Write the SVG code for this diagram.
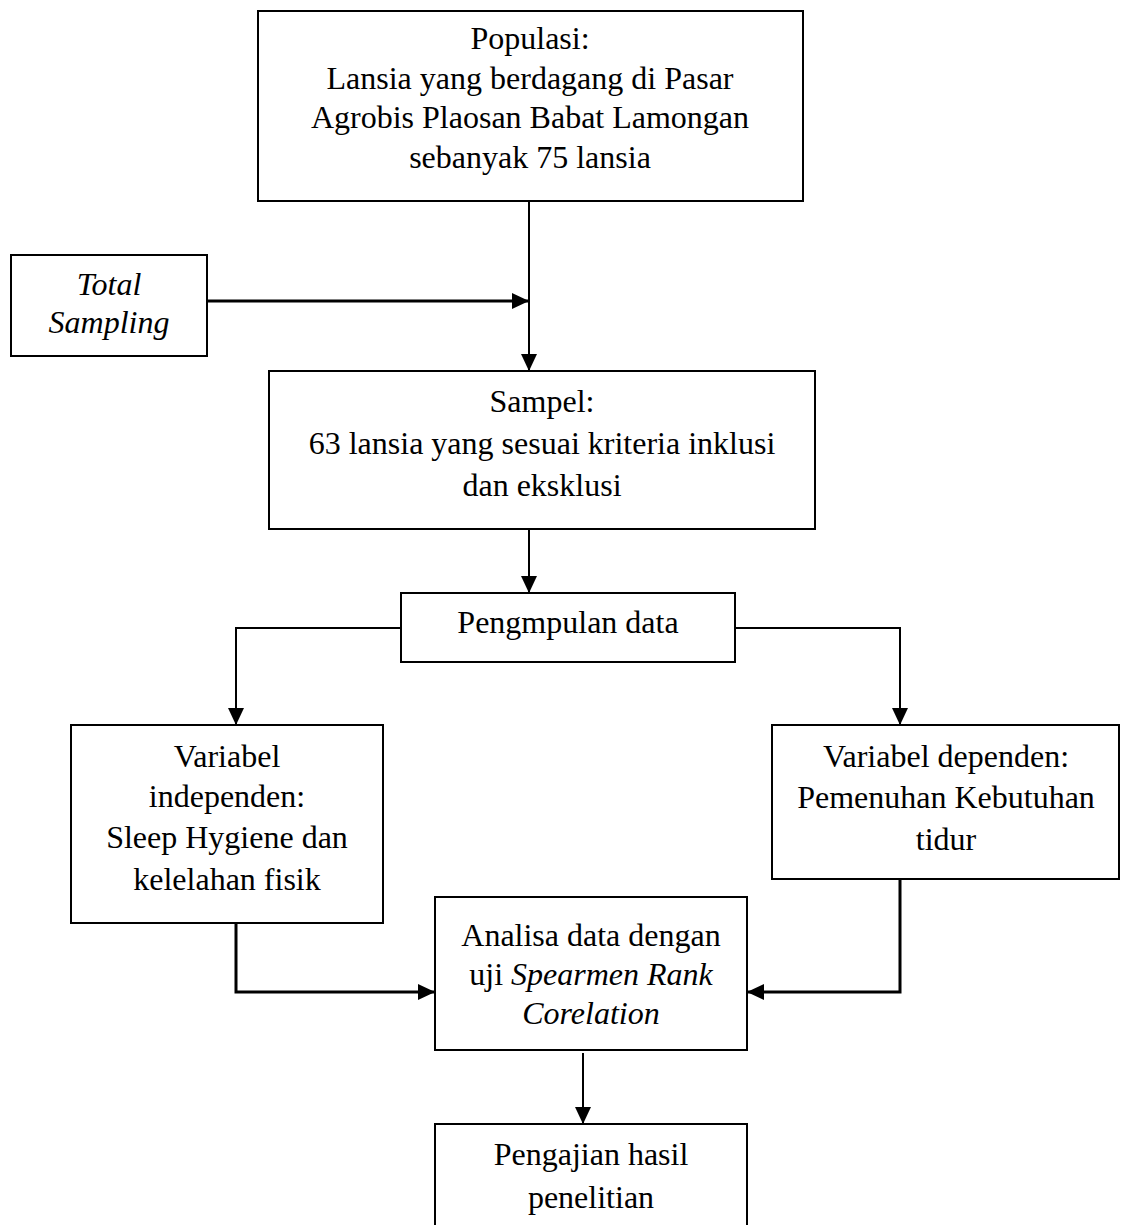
<svg xmlns="http://www.w3.org/2000/svg" width="1122" height="1225" viewBox="0 0 1122 1225">
<style>
  .box { fill: #fff; stroke: #000; stroke-width: 2; }
  .t { font-family: "Liberation Serif", "Times New Roman", serif; font-size: 32px; fill: #000; text-anchor: middle; }
  .it { font-style: italic; }
  .c { fill: none; stroke: #000; stroke-width: 2; }
  .h { fill: none; stroke: #000; stroke-width: 3; }
</style>
<defs>
  <marker id="ah" markerUnits="userSpaceOnUse" markerWidth="18" markerHeight="18" refX="17" refY="8" orient="auto">
    <path d="M0,0 L17,8 L0,16 z" fill="#000"/>
  </marker>
</defs>
<rect width="1122" height="1225" fill="#fff"/>

<g id="connectors">
  <line class="c" x1="529" y1="201" x2="529" y2="371" marker-end="url(#ah)"/>
  <line class="h" x1="207" y1="301" x2="529" y2="301" marker-end="url(#ah)"/>
  <line class="c" x1="529" y1="529" x2="529" y2="593" marker-end="url(#ah)"/>
  <polyline class="c" points="401,628 236,628 236,725" marker-end="url(#ah)"/>
  <polyline class="c" points="735,628 900,628 900,725" marker-end="url(#ah)"/>
  <polyline class="h" points="236,923 236,992 435,992" marker-end="url(#ah)"/>
  <polyline class="h" points="900,879 900,992 747,992" marker-end="url(#ah)"/>
  <line class="c" x1="583" y1="1053" x2="583" y2="1124" marker-end="url(#ah)"/>
</g>

<g id="populasi">
  <rect class="box" x="258" y="11" width="545" height="190"/>
  <text class="t" x="530" y="49">Populasi:</text>
  <text class="t" x="530" y="89">Lansia yang berdagang di Pasar</text>
  <text class="t" x="530" y="128">Agrobis Plaosan Babat Lamongan</text>
  <text class="t" x="530" y="168">sebanyak 75 lansia</text>
</g>

<g id="total-sampling">
  <rect class="box" x="11" y="255" width="196" height="101"/>
  <text class="t it" x="109" y="295">Total</text>
  <text class="t it" x="109" y="333">Sampling</text>
</g>

<g id="sampel">
  <rect class="box" x="269" y="371" width="546" height="158"/>
  <text class="t" x="542" y="412">Sampel:</text>
  <text class="t" x="542" y="454">63 lansia yang sesuai kriteria inklusi</text>
  <text class="t" x="542" y="496">dan eksklusi</text>
</g>

<g id="pengumpulan">
  <rect class="box" x="401" y="593" width="334" height="69"/>
  <text class="t" x="568" y="633">Pengmpulan data</text>
</g>

<g id="var-independen">
  <rect class="box" x="71" y="725" width="312" height="198"/>
  <text class="t" x="227" y="767">Variabel</text>
  <text class="t" x="227" y="807">independen:</text>
  <text class="t" x="227" y="848">Sleep Hygiene dan</text>
  <text class="t" x="227" y="890">kelelahan fisik</text>
</g>

<g id="var-dependen">
  <rect class="box" x="772" y="725" width="347" height="154"/>
  <text class="t" x="946" y="767">Variabel dependen:</text>
  <text class="t" x="946" y="808">Pemenuhan Kebutuhan</text>
  <text class="t" x="946" y="850">tidur</text>
</g>

<g id="analisa">
  <rect class="box" x="435" y="897" width="312" height="153"/>
  <text class="t" x="591" y="946">Analisa data dengan</text>
  <text class="t" x="591" y="985">uji <tspan class="it">Spearmen Rank</tspan></text>
  <text class="t it" x="591" y="1024">Corelation</text>
</g>

<g id="pengajian">
  <rect class="box" x="435" y="1124" width="312" height="110"/>
  <text class="t" x="591" y="1165">Pengajian hasil</text>
  <text class="t" x="591" y="1208">penelitian</text>
</g>
</svg>
